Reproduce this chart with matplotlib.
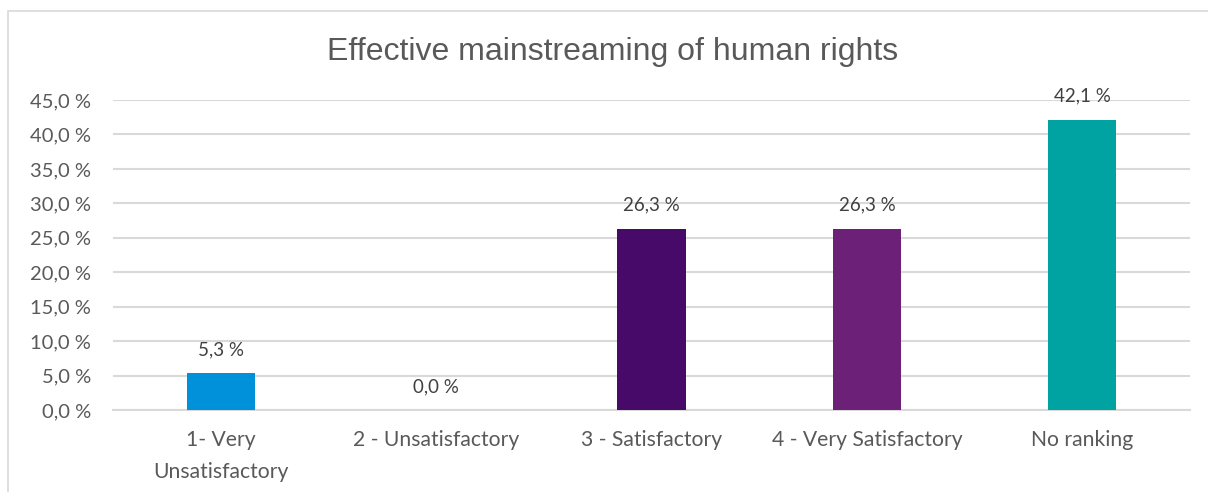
import matplotlib
matplotlib.use("Agg")
import matplotlib.pyplot as plt
from matplotlib.patches import Rectangle

categories = ["1- Very\nUnsatisfactory", "2 - Unsatisfactory", "3 - Satisfactory",
              "4 - Very Satisfactory", "No ranking"]
values = [5.3, 0.0, 26.3, 26.3, 42.1]
bar_colors = ["#0091DA", "#0091DA", "#470A68", "#6D2077", "#00A3A1"]
yticks = [0, 5, 10, 15, 20, 25, 30, 35, 40, 45]
title = "Effective mainstreaming of human rights"

text_color = "#595959"
grid_color = "#D9D9D9"
label_font = "Lato"

fig = plt.figure(figsize=(12.08, 4.92), dpi=100)
ax = fig.add_axes([113 / 1208, 82 / 492, (1190 - 113) / 1208, 310 / 492])

# chart frame
fig.patches.append(Rectangle((8 / 1208, -0.1), 1.2, (492 - 11) / 492 + 0.1,
                             transform=fig.transFigure, fill=False,
                             edgecolor="#D9D9D9", linewidth=1.2))

x = list(range(len(categories)))
ax.bar(x, values, width=0.316, color=bar_colors, zorder=3)

for xi, v in zip(x, values):
    ax.annotate(f"{v:.1f} %".replace(".", ","), (xi, v), xytext=(0, 17),
                textcoords="offset points", ha="center", va="center",
                fontsize=13.5, color="#404040", family=label_font)

ax.set_xlim(-0.5, len(categories) - 0.5)
ax.set_ylim(0, 45)
ax.set_yticks(yticks)
ax.set_yticklabels([f"{t:.1f} %".replace(".", ",") for t in yticks],
                   fontsize=14.5, color=text_color, family=label_font)
ax.set_xticks(x)
ax.set_xticklabels(categories, fontsize=15.2, color=text_color, family=label_font,
                   linespacing=1.73)
ax.tick_params(axis="both", length=0)
ax.tick_params(axis="y", pad=16)
ax.tick_params(axis="x", pad=14.5)
ax.yaxis.grid(True, color=grid_color, linewidth=1.5, zorder=0)
for s in ["top", "right", "left"]:
    ax.spines[s].set_visible(False)
ax.spines["bottom"].set_color(grid_color)
ax.spines["bottom"].set_linewidth(1.5)

fig.text(613 / 1208, 1 - 52 / 492, title, ha="center", va="center",
         fontsize=23, color=text_color, family="Liberation Sans")

fig.savefig("out.png", dpi=100)
